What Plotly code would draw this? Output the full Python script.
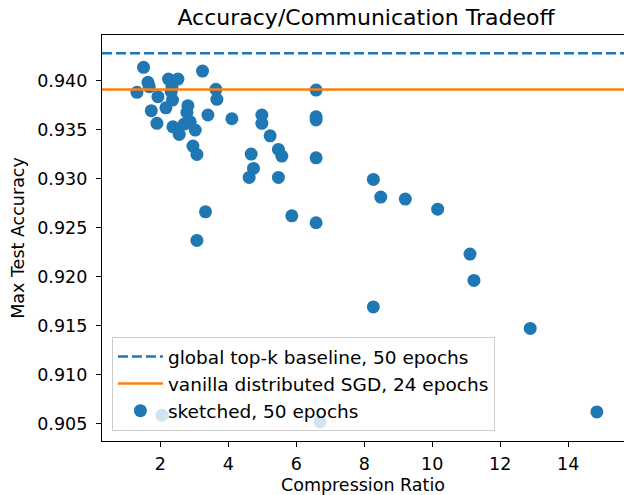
import plotly.graph_objects as go

# ---- data ----
compression_ratio = [
    1.315, 1.509, 1.639, 1.677, 1.932, 1.736, 1.903, 2.244, 2.520, 2.344,
    2.323, 2.361, 2.167, 2.373, 2.558, 2.814, 2.785, 2.705, 2.882, 3.029,
    2.961, 3.078, 3.243, 3.402, 3.637, 3.666, 3.331, 3.078, 4.107, 4.989,
    4.989, 5.232, 5.476, 5.576, 4.674, 4.742, 4.615, 5.476, 5.870, 6.584,
    6.584, 6.584, 6.584, 6.584, 8.268, 8.486, 9.208, 10.160, 11.110, 11.227,
    8.268, 12.882, 14.842, 2.05, 6.70,
]
max_test_accuracy = [
    0.93882, 0.94137, 0.93984, 0.93939, 0.93837, 0.93694, 0.93565, 0.94017, 0.94017, 0.93939,
    0.93888, 0.93803, 0.93724, 0.93530, 0.93452, 0.93745, 0.93677, 0.93558, 0.93581, 0.93496,
    0.93333, 0.93248, 0.94099, 0.93650, 0.93912, 0.93810, 0.92662, 0.92370, 0.93612, 0.93650,
    0.93565, 0.93438, 0.93299, 0.93231, 0.93251, 0.93105, 0.93013, 0.93013, 0.92621, 0.93905,
    0.93632, 0.93599, 0.93213, 0.92550, 0.92993, 0.92812, 0.92792, 0.92689, 0.92230, 0.91961,
    0.91691, 0.91471, 0.90619, 0.90585, 0.90517,
]
global_topk_accuracy = 0.9428
vanilla_sgd_accuracy = 0.9391

x_range = [0.287, 15.64]
y_range = [0.90322, 0.94467]
y_ticks = [0.905, 0.910, 0.915, 0.920, 0.925, 0.930, 0.935, 0.940]
x_ticks = [2, 4, 6, 8, 10, 12, 14]

BLUE = "#1f77b4"
ORANGE = "#ff7f0e"
FONT = "DejaVu Sans"
SMALL = 17.5

fig = go.Figure()

fig.add_trace(go.Scatter(
    x=compression_ratio, y=max_test_accuracy, mode="markers",
    marker=dict(color=BLUE, size=13, line=dict(width=0)),
    name="sketched, 50 epochs", legendgroup="c", legendrank=3,
))
fig.add_trace(go.Scatter(
    x=x_range, y=[global_topk_accuracy] * 2, mode="lines",
    line=dict(color=BLUE, width=2.5, dash="10px,4px"),
    name="global top-k baseline, 50 epochs", legendgroup="a", legendrank=1,
))
fig.add_trace(go.Scatter(
    x=x_range, y=[vanilla_sgd_accuracy] * 2, mode="lines",
    line=dict(color=ORANGE, width=2.5),
    name="vanilla distributed SGD, 24 epochs", legendgroup="b", legendrank=2,
))

axis_common = dict(
    showline=True, linecolor="black", linewidth=1.3,
    ticks="outside", ticklen=5, tickwidth=1.3, tickcolor="black",
    showgrid=False, zeroline=False, automargin=False,
    tickfont=dict(family=FONT, size=SMALL, color="black"),
)

fig.update_layout(
    width=624, height=495,
    margin=dict(l=102, r=0, t=35, b=54, autoexpand=False),
    paper_bgcolor="white", plot_bgcolor="white",
    font=dict(family=FONT, size=SMALL, color="black"),
    title=dict(
        text="Accuracy/Communication Tradeoff",
        font=dict(family=FONT, size=22, color="black"),
        x=366 / 624, xref="container", xanchor="center",
        y=1 - 17 / 495, yref="container", yanchor="middle",
    ),
    xaxis=dict(
        range=x_range, tickvals=x_ticks, mirror=True, ticklabelstandoff=2,
        title=dict(text="Compression Ratio", font=dict(family=FONT, size=SMALL), standoff=11),
        **axis_common,
    ),
    yaxis=dict(
        range=y_range, tickvals=y_ticks, tickformat=".3f", ticklabelstandoff=5,
        title=dict(text="Max Test Accuracy", font=dict(family=FONT, size=SMALL), standoff=8),
        **axis_common,
    ),
    legend=dict(
        x=0.019, y=0.0246, xanchor="left", yanchor="bottom",
        bgcolor="rgba(255,255,255,0.8)", bordercolor="#cccccc", borderwidth=1,
        font=dict(family=FONT, size=18.5, color="black"),
        traceorder="grouped", tracegroupgap=0, itemwidth=45,
    ),
    showlegend=True,
)

fig.write_html("out.html", post_script="document.body.style.margin='0';",
               config={"displayModeBar": False})
